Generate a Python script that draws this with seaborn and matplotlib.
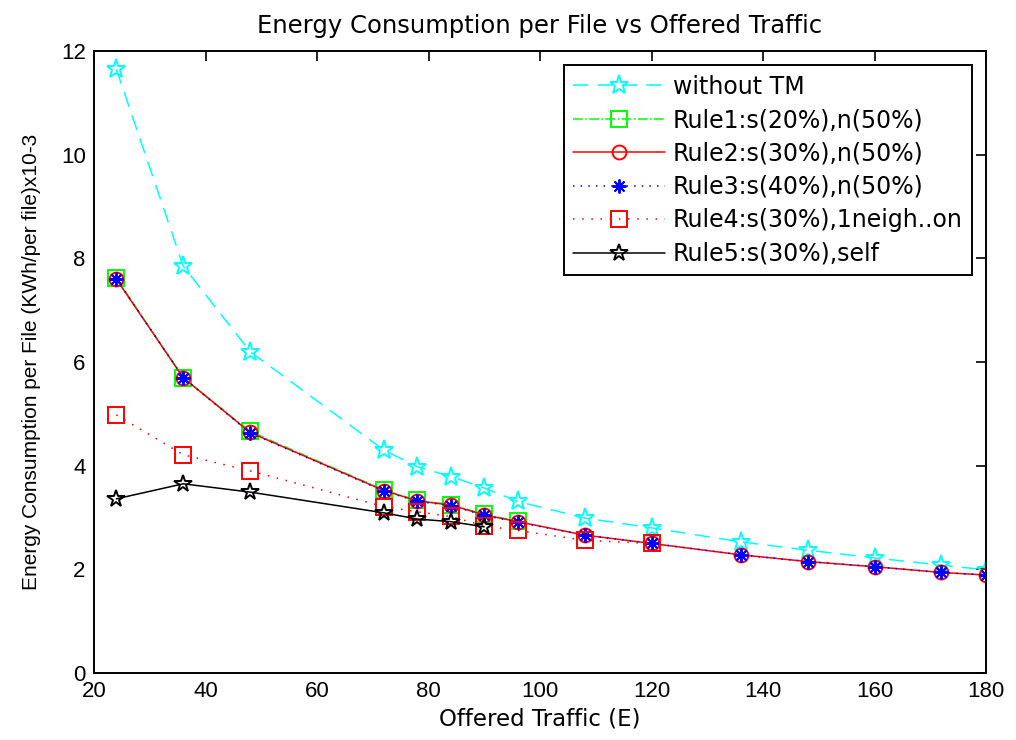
import matplotlib
matplotlib.use("Agg")
import matplotlib.pyplot as plt
import seaborn as sns
import pandas as pd
from matplotlib import font_manager

# ---- data ----
x_all = [24, 36, 48, 72, 78, 84, 90, 96, 108, 120, 136, 148, 160, 172, 180]
without_tm = [11.65, 7.85, 6.20, 4.30, 3.98, 3.79, 3.57, 3.31, 2.99, 2.80, 2.53, 2.37, 2.22, 2.08, 1.99]
x_rule1 = [24, 36, 48, 72, 78, 84, 90, 96]
rule1 = [7.62, 5.69, 4.66, 3.53, 3.33, 3.25, 3.06, 2.93]
rule2 = [7.60, 5.70, 4.64, 3.52, 3.32, 3.24, 3.05, 2.92, 2.66, 2.50, 2.28, 2.15, 2.05, 1.94, 1.89]
rule3 = [7.61, 5.70, 4.63, 3.51, 3.31, 3.23, 3.04, 2.91, 2.66, 2.50, 2.28, 2.15, 2.05, 1.94, 1.89]
x_rule4 = [24, 36, 48, 72, 78, 84, 90, 96, 108, 120]
rule4 = [4.98, 4.21, 3.90, 3.21, 3.11, 3.02, 2.84, 2.75, 2.56, 2.50]
x_rule5 = [24, 36, 48, 72, 78, 84, 90]
rule5 = [3.36, 3.65, 3.49, 3.09, 2.97, 2.92, 2.82]

labels = ["without TM", "Rule1:s(20%),n(50%)", "Rule2:s(30%),n(50%)",
          "Rule3:s(40%),n(50%)", "Rule4:s(30%),1neigh..on", "Rule5:s(30%),self"]
x_ticks = [20, 40, 60, 80, 100, 120, 140, 160, 180]
y_ticks = [0, 2, 4, 6, 8, 10, 12]

sns.set_theme(style="white")
avail = {f.name for f in font_manager.fontManager.ttflist}
narrow = "Liberation Sans" if "Liberation Sans" in avail else "DejaVu Sans"
plt.rcParams["font.family"] = [narrow, "DejaVu Sans"]
plt.rcParams["font.size"] = 16
plt.rcParams["text.color"] = "black"
plt.rcParams["axes.labelcolor"] = "black"
wide = ["DejaVu Sans"]

fig = plt.figure(figsize=(10.16, 7.40), dpi=100)
ax = fig.add_axes([94 / 1016, 1 - 673 / 740, (986 - 94) / 1016, (673 - 51) / 740])

asterisk = (8, 2, 0)
series = [
    (x_all, without_tm, labels[0], dict(color="#00FFFF", linestyle=(0, (10, 6)), marker="*",
                                        markersize=14, markerfacecolor="none", markeredgecolor="#00FFFF")),
    (x_rule1, rule1, labels[1], dict(color="#00FF00", linestyle="-.", marker="s",
                                     markersize=12, markerfacecolor="none", markeredgecolor="#00FF00")),
    (x_all, rule2, labels[2], dict(color="#FF0000", linestyle="-", marker="o",
                                   markersize=10, markerfacecolor="none", markeredgecolor="#FF0000")),
    (x_all, rule3, labels[3], dict(color="#0000FF", linestyle=(0, (1, 4)), marker=asterisk,
                                   markersize=10, markerfacecolor="#0000FF", markeredgecolor="#0000FF")),
    (x_rule4, rule4, labels[4], dict(color="#FF0000", linestyle=(0, (1, 5)), marker="s",
                                     markersize=12, markerfacecolor="none", markeredgecolor="#FF0000")),
    (x_rule5, rule5, labels[5], dict(color="black", linestyle="-", marker="*",
                                     markersize=13, markerfacecolor="none", markeredgecolor="black")),
]

for xs, ys, lab, kw in series:
    df = pd.DataFrame({"x": xs, "y": ys})
    sns.lineplot(data=df, x="x", y="y", ax=ax, label=lab, linewidth=1.1,
                 markeredgewidth=1.4, estimator=None, sort=False, **kw)

ax.set_xlim(20, 180)
ax.set_ylim(0, 12)
ax.set_xticks(x_ticks)
ax.set_yticks(y_ticks)
ax.tick_params(direction="in", top=True, right=True, length=7, width=1.2,
               labelsize=16, colors="black", pad=6)
for s in ax.spines.values():
    s.set_visible(True)
    s.set_color("black")
    s.set_linewidth(1.4)

ax.set_title("Energy Consumption per File vs Offered Traffic", fontsize=17.5, pad=13,
             family=wide, color="black")
ax.set_xlabel("Offered Traffic (E)", fontsize=16.5, labelpad=4, family=wide, color="black")
ax.set_ylabel("Energy Consumption per File (KWh/per file)x10-3", fontsize=15, labelpad=14,
              color="black")

leg = ax.legend(loc="upper right", handlelength=3.9, frameon=True,
                prop={"family": wide, "size": 17},
                fancybox=False, framealpha=1, edgecolor="black", borderaxespad=0.6,
                labelspacing=0.4, handletextpad=0.3, borderpad=0.4)
leg.get_frame().set_linewidth(1.4)
for t in leg.get_texts():
    t.set_color("black")

fig.savefig("out.png", dpi=100, facecolor="white")
